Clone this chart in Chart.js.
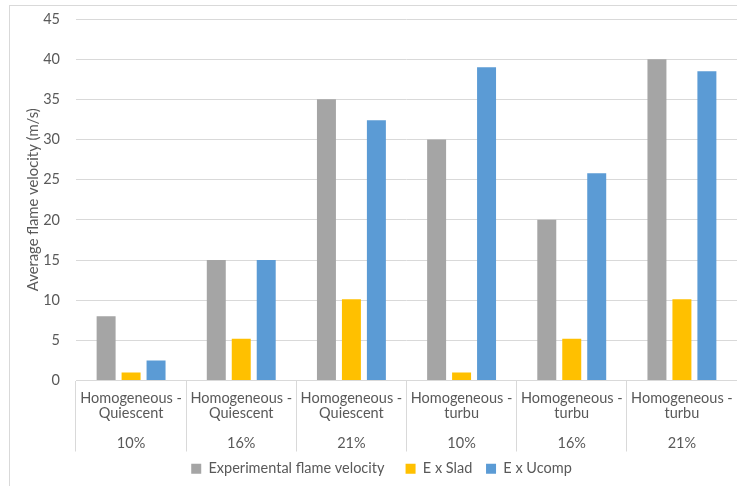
<!DOCTYPE html>
<html>
<head>
<meta charset="utf-8">
<script src="https://cdn.jsdelivr.net/npm/chart.js@4"></script>
<style>
  html, body { margin: 0; padding: 0; background: #fff; overflow: hidden; }
  #frame { position: absolute; left: 9px; top: 5px; width: 800px; height: 600px; border: 1px solid #d9d9d9; }
  #chart { position: absolute; left: 0; top: 0; }
</style>
</head>
<body>
<div id="frame"></div>
<canvas id="chart" width="737" height="486"></canvas>
<script>
// categories (two label rows)
const mixtures = ['Homogeneous - Quiescent', 'Homogeneous - Quiescent', 'Homogeneous - Quiescent',
                  'Homogeneous - turbu', 'Homogeneous - turbu', 'Homogeneous - turbu'];
const concentrations = ['10%', '16%', '21%', '10%', '16%', '21%'];

// series values (m/s)
const experimental = [8, 15, 35, 30, 20, 40];
const exSlad = [1, 5.2, 10.1, 1, 5.2, 10.1];
const exUcomp = [2.5, 15, 32.4, 39, 25.8, 38.5];

const yTicks = [0, 5, 10, 15, 20, 25, 30, 35, 40, 45];

const textColor = '#595959';
const gridColor = '#d9d9d9';
const fontFamily = "Lato, 'Liberation Sans', sans-serif";

// split "Homogeneous - Quiescent" into two lines, blank line, then the percent row
const labels = mixtures.map((m, i) => {
  const parts = m.split(' - ');
  return [parts[0] + ' -', parts[1], '', concentrations[i]];
});

const legendGaps = ['   ', ' ', ''];

const ctx = document.getElementById('chart').getContext('2d');
new Chart(ctx, {
  type: 'bar',
  data: {
    labels: labels,
    datasets: [
      { label: 'Experimental flame velocity', data: experimental, backgroundColor: '#a5a5a5' },
      { label: 'E x Slad', data: exSlad, backgroundColor: '#ffc000' },
      { label: 'E x Ucomp', data: exUcomp, backgroundColor: '#5b9bd5' }
    ]
  },
  options: {
    responsive: false,
    animation: false,
    categoryPercentage: 0.68,
    barPercentage: 0.76,
    // left padding centres the legend under the frame; y axis width makes up the rest
    layout: { padding: { top: 19, right: 0, bottom: 0, left: 26 } },
    plugins: {
      legend: {
        position: 'bottom',
        labels: {
          boxWidth: 10,
          boxHeight: 10,
          padding: 10,
          color: textColor,
          font: { family: fontFamily, size: 14.5 },
          generateLabels: (chart) => {
            const items = Chart.defaults.plugins.legend.labels.generateLabels(chart);
            items.forEach((it, i) => { it.text += legendGaps[i]; });
            return items;
          }
        }
      },
      tooltip: { enabled: false }
    },
    scales: {
      x: {
        offset: true,
        grid: {
          offset: true,
          drawOnChartArea: false,
          tickLength: 71,
          color: gridColor
        },
        border: { display: true, color: gridColor },
        ticks: {
          autoSkip: false,
          maxRotation: 0,
          padding: -61,
          color: textColor,
          font: { family: fontFamily, size: 14.5, lineHeight: 1.05 }
        },
        afterFit: (scale) => { scale.height = 71; }
      },
      y: {
        min: 0,
        max: 45,
        afterBuildTicks: (scale) => { scale.ticks = yTicks.map(v => ({ value: v })); },
        afterFit: (scale) => { scale.width = 50; },
        grid: { color: gridColor, tickLength: 12, tickColor: 'rgba(0,0,0,0)' },
        border: { display: false },
        ticks: {
          padding: 4,
          color: textColor,
          font: { family: fontFamily, size: 14.5 }
        },
        title: {
          display: true,
          text: 'Average flame velocity (m/s)',
          color: textColor,
          padding: { top: -2, bottom: 0 },
          font: { family: fontFamily, size: 14.8 }
        }
      }
    }
  }
});
</script>
</body>
</html>
